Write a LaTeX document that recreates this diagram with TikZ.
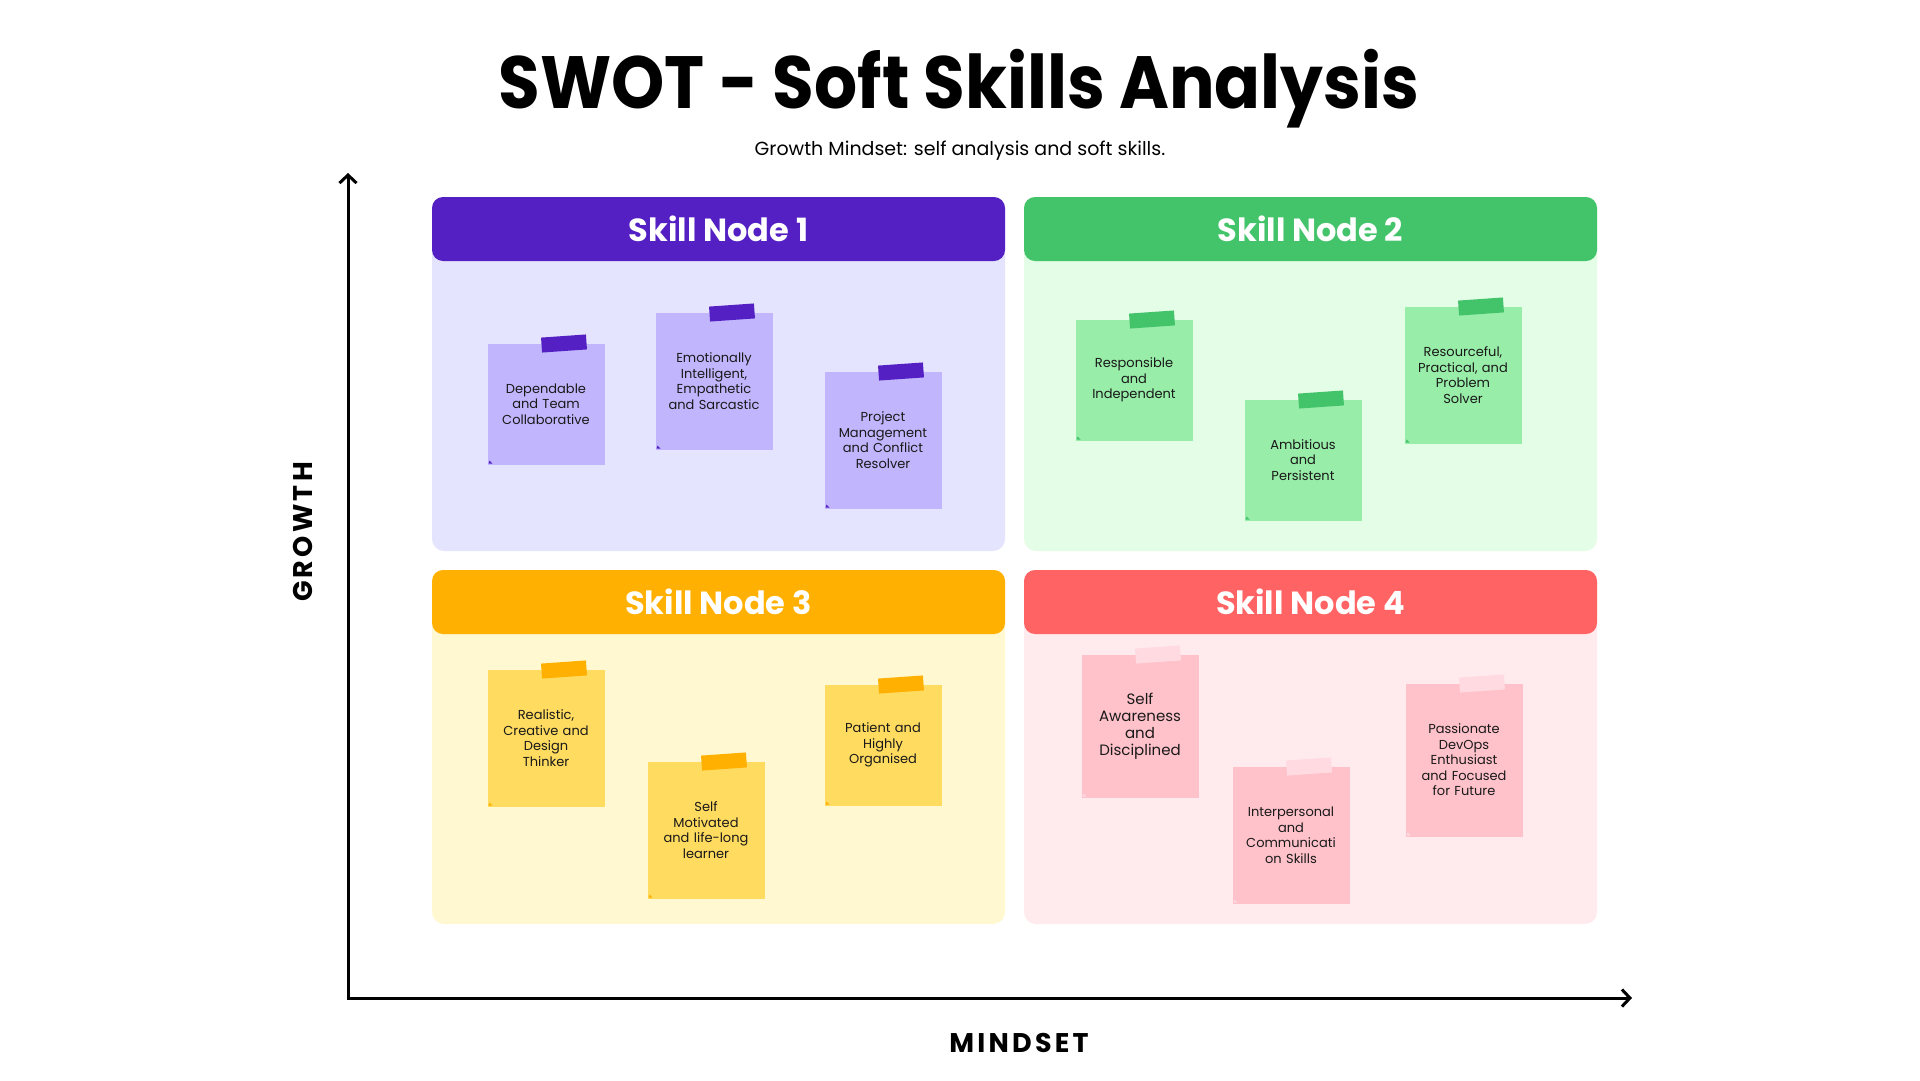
\documentclass[tikz,border=0pt]{standalone}
\usepackage{fontspec}
\setmainfont{Poppins}
\newfontfamily\axisfont[LetterSpace=12]{Poppins}
\usetikzlibrary{positioning, arrows.meta}

\definecolor{purpleHead}{HTML}{5420C3}
\definecolor{purpleFill}{HTML}{E4E4FE}
\definecolor{purpleNote}{HTML}{C1B6FD}
\definecolor{purpleTape}{HTML}{5420C3}
\definecolor{greenHead}{HTML}{44C46A}
\definecolor{greenFill}{HTML}{E4FDE6}
\definecolor{greenNote}{HTML}{98EDA8}
\definecolor{greenTape}{HTML}{44C46A}
\definecolor{amberHead}{HTML}{FFB000}
\definecolor{amberFill}{HTML}{FFF8D1}
\definecolor{amberNote}{HTML}{FFDB60}
\definecolor{amberTape}{HTML}{FFB000}
\definecolor{redHead}{HTML}{FF6363}
\definecolor{redFill}{HTML}{FFEAED}
\definecolor{redNote}{HTML}{FFC2CA}
\definecolor{redTape}{HTML}{FFDAE0}

\begin{document}
\begin{tikzpicture}[
    x=1pt, y=-1pt,
    font=\fontsize{13}{15.5}\selectfont,
    >={Straight Barb[length=8pt, width=17pt]},
    quad/.style={rounded corners=12pt, fill=#1Fill, minimum width=573pt,
        minimum height=354pt, inner sep=0pt, outer sep=0pt},
    qhead/.style={rounded corners=11pt, fill=#1Head, text=white, minimum width=573pt,
        minimum height=64pt, inner sep=0pt, outer sep=0pt,
        font=\bfseries\fontsize{32}{36}\selectfont},
    note/.style={fill=#1Note, text=black!90, minimum width=117pt, minimum height=121pt,
        text width=104pt, align=center, inner sep=0pt, outer sep=0pt,
        path picture={\fill[#1Tape] (path picture bounding box.south west)
            ++(1pt,1pt) -- ++(4pt,0pt) -- ++(-3pt,3pt) -- cycle;}},
    tall/.style={minimum height=137pt},
    tape/.style={fill=#1Tape, minimum width=45pt, minimum height=15pt,
        inner sep=0pt, rotate=4},
    axis/.style={<->, line width=3pt},
    axlabel/.style={font=\axisfont\bfseries\fontsize{27}{30}\selectfont}
  ]
    \fill[white] (0,0) rectangle (1920,1080);
    \useasboundingbox (0,0) rectangle (1920,1080);

    \node[anchor=base, xscale=0.915, font=\bfseries\fontsize{74}{84}\selectfont] (title) at (959,108) {SWOT - Soft Skills Analysis};
    \node[anchor=base, font=\fontsize{19}{22}\selectfont] (sub) at (960,155) {Growth Mindset: self analysis and soft skills.};

    % quadrants
    \node[quad=purple, anchor=north west] (p1) at (432,197) {};
    \node[quad=green, right=19pt of p1] (p2) {};
    \node[quad=amber, below=19pt of p1] (p3) {};
    \node[quad=red, right=19pt of p3] (p4) {};
    \node[qhead=purple, anchor=north] (h1) at (p1.north) {Skill Node 1};
    \node[qhead=green, anchor=north] (h2) at (p2.north) {Skill Node 2};
    \node[qhead=amber, anchor=north] (h3) at (p3.north) {Skill Node 3};
    \node[qhead=red, anchor=north] (h4) at (p4.north) {Skill Node 4};

    % sticky notes
    \node[note=purple] (n11) at (546,404) {Dependable\\and Team\\Collaborative};
    \node[note=purple, tall] (n12) at (714,381) {Emotionally\\Intelligent,\\Empathetic\\and Sarcastic};
    \node[note=purple, tall] (n13) at (883,440) {Project\\Management\\and Conflict\\Resolver};
    \node[note=green] (n21) at (1134,380) {Responsible\\and\\Independent};
    \node[note=green] (n22) at (1303,460) {Ambitious\\and\\Persistent};
    \node[note=green, tall] (n23) at (1463,375) {Resourceful,\\Practical, and\\Problem\\Solver};
    \node[note=amber, tall] (n31) at (546,738) {Realistic,\\Creative and\\Design\\Thinker};
    \node[note=amber, tall] (n32) at (706,830) {Self\\Motivated\\and life-long\\learner};
    \node[note=amber] (n33) at (883,745) {Patient and\\Highly\\Organised};
    \node[note=red, minimum height=143pt, font=\fontsize{15}{17}\selectfont] (n41) at (1140,726) {Self\\Awareness\\and\\Disciplined};
    \node[note=red, tall] (n42) at (1291,835) {Interpersonal\\and\\Communicati\\on Skills};
    \node[note=red, minimum height=153pt] (n43) at (1464,760) {Passionate\\DevOps\\Enthusiast\\and Focused\\for Future};

    % tapes
    \node[tape=purple] (t11) at ([xshift=18pt]n11.north) {};
    \node[tape=purple] (t12) at ([xshift=18pt]n12.north) {};
    \node[tape=purple] (t13) at ([xshift=18pt]n13.north) {};
    \node[tape=green] (t21) at ([xshift=18pt]n21.north) {};
    \node[tape=green] (t22) at ([xshift=18pt]n22.north) {};
    \node[tape=green] (t23) at ([xshift=18pt]n23.north) {};
    \node[tape=amber] (t31) at ([xshift=18pt]n31.north) {};
    \node[tape=amber] (t32) at ([xshift=18pt]n32.north) {};
    \node[tape=amber] (t33) at ([xshift=18pt]n33.north) {};
    \node[tape=red] (t41) at ([xshift=18pt]n41.north) {};
    \node[tape=red] (t42) at ([xshift=18pt]n42.north) {};
    \node[tape=red] (t43) at ([xshift=18pt]n43.north) {};

    % axes
    \coordinate (ytip) at (348,173);
    \coordinate (origin) at (348,998);
    \coordinate (xtip) at (1632,998);
    \draw[axis] (ytip) -- (origin) -- (xtip);
    \node[axlabel, rotate=90] (ylab) at (303,532) {GROWTH};
    \node[axlabel] (xlab) at (1019,1043) {MINDSET};
  \end{tikzpicture}
\end{document}
